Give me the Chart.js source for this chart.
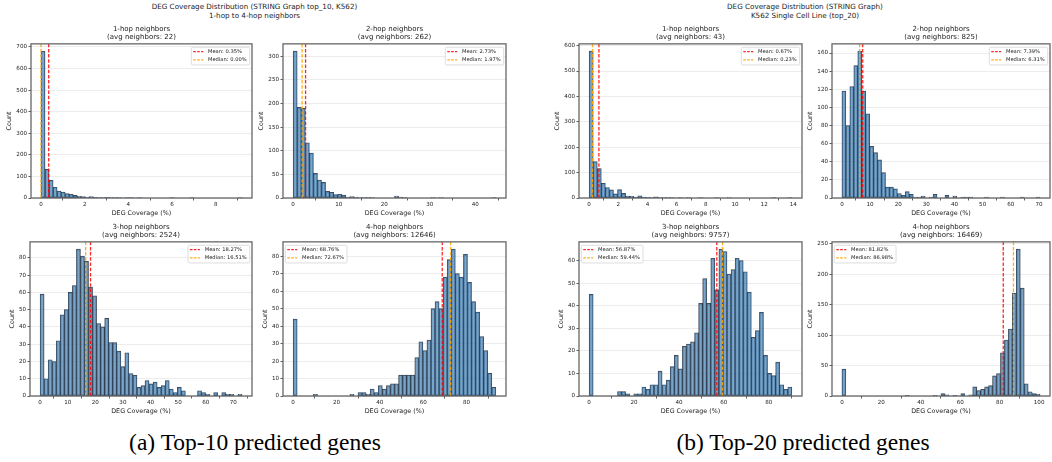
<!DOCTYPE html>
<html>
<head>
<meta charset="utf-8">
<script src="https://cdn.jsdelivr.net/npm/chart.js@4.4.0/dist/chart.umd.min.js"></script>
<style>
    html, body { margin: 0; padding: 0; background: #fff; }
    #page { position: relative; width: 1052px; height: 462px; overflow: hidden; font-family: "DejaVu Sans", sans-serif; color: #222; }
    #page canvas { position: absolute; }
    .sup { position: absolute; width: 400px; text-align: center; font-size: 7.2px; line-height: 9px; white-space: nowrap; }
    .sub { position: absolute; width: 200px; text-align: center; font-size: 7px; line-height: 7.8px; white-space: nowrap; }
    .cap { position: absolute; width: 400px; text-align: center; font-family: "Liberation Serif", serif; font-size: 23.5px; line-height: 26px; color: #000; white-space: nowrap; }
</style>
</head>
<body>
<div id="page"></div>
<script>
// ---- data ----
const hopTitles = ['1-hop neighbors', '2-hop neighbors', '3-hop neighbors', '4-hop neighbors'];

// (a) top-10
const avgNeighbors10 = [22, 262, 2524, 12646];
const mean10 = [0.35, 2.73, 18.27, 68.76];
const median10 = [0.00, 1.97, 16.51, 72.67];
const maxCoverage10 = [9.2, 44.5, 73.1, 93.5];   // histogram range 0..max, 50 bins
const xStep10 = [2, 10, 10, 20];
const yStep10 = [100, 50, 10, 10];
const top10Hop1 = [680, 133, 82, 50, 32, 27, 20, 17, 12, 8, 7, 4, 6, 3, 2, 2, 3, 2, 1, 1, 0, 1, 1, 0, 1, 0, 0, 0, 0, 0, 0, 0, 1, 0, 0, 0, 0, 2, 0, 0, 0, 0, 0, 0, 0, 0, 0, 0, 0, 1];
const top10Hop2 = [311, 192, 190, 117, 95, 52, 38, 33, 14, 12, 7, 8, 6, 2, 3, 2, 1, 1, 1, 1, 0, 0, 0, 0, 0, 4, 2, 1, 0, 0, 0, 0, 0, 0, 1, 0, 1, 0, 0, 0, 0, 0, 0, 0, 0, 0, 0, 0, 0, 1];
const top10Hop3 = [59, 10, 21, 20, 32, 47, 50, 60, 64, 85, 81, 78, 63, 58, 42, 40, 45, 31, 31, 26, 17, 25, 13, 12, 5, 6, 9, 7, 8, 5, 6, 9, 4, 2, 5, 3, 0, 0, 0, 3, 2, 1, 0, 2, 0, 2, 1, 1, 0, 1];
const top10Hop4 = [44, 0, 0, 0, 0, 1, 0, 0, 0, 0, 0, 0, 0, 0, 1, 0, 2, 2, 1, 4, 2, 6, 4, 6, 7, 7, 12, 12, 12, 12, 22, 31, 26, 32, 50, 54, 50, 68, 78, 84, 70, 68, 81, 65, 54, 48, 34, 26, 13, 5];

// (b) top-20
const avgNeighbors20 = [43, 825, 9757, 16469];
const mean20 = [0.67, 7.39, 56.87, 81.82];
const median20 = [0.23, 6.31, 59.44, 86.98];
const maxCoverage20 = [13.9, 70.4, 90.3, 100.5];
const xStep20 = [2, 10, 20, 20];
const yStep20 = [100, 20, 10, 50];
const top20Hop1 = [578, 143, 116, 58, 41, 32, 16, 33, 18, 8, 7, 4, 9, 4, 3, 2, 5, 2, 1, 1, 1, 0, 1, 0, 1, 0, 0, 1, 0, 0, 0, 1, 0, 0, 1, 0, 0, 0, 0, 0, 0, 0, 0, 0, 0, 2, 0, 0, 0, 1];
const top20Hop2 = [118, 80, 123, 146, 162, 118, 93, 57, 50, 42, 28, 12, 12, 10, 5, 3, 7, 4, 1, 1, 2, 0, 1, 4, 0, 0, 3, 0, 2, 0, 1, 1, 1, 0, 0, 0, 1, 0, 0, 0, 1, 0, 0, 0, 0, 1, 0, 0, 0, 1];
const top20Hop3 = [45, 0, 0, 0, 0, 0, 0, 2, 2, 1, 0, 1, 1, 4, 3, 5, 5, 11, 5, 7, 13, 18, 12, 22, 23, 24, 28, 41, 52, 41, 61, 47, 65, 64, 54, 56, 61, 60, 55, 46, 26, 29, 37, 18, 10, 9, 15, 5, 3, 4];
const top20Hop4 = [44, 0, 0, 0, 0, 0, 0, 0, 0, 0, 0, 0, 0, 0, 0, 0, 1, 0, 0, 0, 0, 0, 0, 1, 0, 4, 2, 0, 1, 0, 4, 0, 2, 15, 9, 11, 15, 17, 33, 37, 71, 92, 110, 169, 241, 177, 20, 7, 4, 3];

// ---- layout: plot boxes [left, top, right, bottom] in page pixels ----
const boxes10 = [[31, 43, 252, 198], [283, 43, 506, 198], [30, 241, 252, 396], [283, 241, 506, 396]];
const boxes20 = [[579, 43, 802, 198], [832, 43, 1050, 198], [579, 241, 802, 396], [832, 241, 1050, 396]];
const yAxisW10 = [25, 25, 21, 21];
const yAxisW20 = [25, 25, 21, 25];
const legendSide10 = ['right', 'right', 'right', 'left'];
const legendSide20 = ['right', 'right', 'left', 'left'];

const page = document.getElementById('page');
const FONT = '"DejaVu Sans", sans-serif';

// matplotlib style frame round the axes
const framePlugin = {
    id: 'frame',
    afterDatasetsDraw(chart) {
        const { ctx, chartArea: a } = chart;
        ctx.save();
        ctx.strokeStyle = '#666';
        ctx.lineWidth = 1.3;
        ctx.strokeRect(a.left, a.top, a.right - a.left, a.bottom - a.top);
        ctx.restore();
    }
};

// small legend drawn inside the axes
const insideLegend = {
    id: 'insideLegend',
    afterDraw(chart, args, opts) {
        const { ctx, chartArea: a } = chart;
        const items = chart.data.datasets.filter(d => d.type === 'line');
        ctx.save();
        ctx.font = '5.2px ' + FONT;
        const tw = Math.max(...items.map(d => ctx.measureText(d.label).width));
        const w = 16.7 + tw + 3, h = 17.7;
        const x = opts.side === 'left' ? a.left + 2.3 : a.right - 2.3 - w;
        const y = a.top + 3.4;
        ctx.fillStyle = 'rgba(255,255,255,0.85)';
        ctx.strokeStyle = '#d4d4d4';
        ctx.lineWidth = 0.8;
        ctx.beginPath();
        ctx.roundRect(x, y, w, h, 1.5);
        ctx.fill();
        ctx.stroke();
        items.forEach((d, i) => {
            const cy = y + 4.4 + i * 8.3;
            ctx.strokeStyle = d.borderColor;
            ctx.lineWidth = 1.2;
            ctx.setLineDash([2.6, 1.3]);
            ctx.beginPath();
            ctx.moveTo(x + 2, cy);
            ctx.lineTo(x + 12, cy);
            ctx.stroke();
            ctx.setLineDash([]);
            ctx.fillStyle = '#222';
            ctx.textBaseline = 'middle';
            ctx.fillText(d.label, x + 16.7, cy);
        });
        ctx.restore();
    }
};

// ticks at 0, step, 2*step ... inside the axis range
function stepTicks(step) {
    return s => {
        const t = [];
        for (let v = 0; v <= s.max + 1e-9; v += step) t.push({ value: v });
        s.ticks = t;
    };
}

function addText(cls, html, left, top) {
    const d = document.createElement('div');
    d.className = cls;
    d.innerHTML = html;
    d.style.left = left + 'px';
    d.style.top = top + 'px';
    page.appendChild(d);
}

function makeHist(box, yW, counts, maxX, mean, median, xStep, yStep, side, title, avg) {
    const [l, t, r, b] = box;
    const cv = document.createElement('canvas');
    cv.width = r - l + yW + 3;
    cv.height = b - t + 4 + 19;
    cv.style.left = (l - yW) + 'px';
    cv.style.top = (t - 4) + 'px';
    page.appendChild(cv);

    addText('sub', title + '<br>(avg neighbors: ' + avg + ')', (l + r) / 2 - 100, t - 17.2);

    const bw = maxX / counts.length;
    const yMax = Math.max(...counts) * 1.05;
    const pad = maxX * 0.05;

    new Chart(cv, {
        data: {
            datasets: [
                {
                    type: 'bar',
                    data: counts.map((c, i) => ({ x: (i + 0.5) * bw, y: c })),
                    backgroundColor: 'rgba(70,130,180,0.72)',
                    borderColor: 'rgba(15,25,40,0.8)',
                    borderWidth: 0.7,
                    borderSkipped: false,
                    barPercentage: 1,
                    categoryPercentage: 1,
                    order: 2
                },
                {
                    type: 'line',
                    label: 'Mean: ' + mean.toFixed(2) + '%',
                    data: [{ x: mean, y: 0 }, { x: mean, y: yMax }],
                    borderColor: 'rgba(255,0,0,0.85)',
                    borderWidth: 1.3,
                    borderDash: [3.5, 1.7],
                    pointRadius: 0,
                    order: 1
                },
                {
                    type: 'line',
                    label: 'Median: ' + median.toFixed(2) + '%',
                    data: [{ x: median, y: 0 }, { x: median, y: yMax }],
                    borderColor: 'rgba(255,165,0,0.9)',
                    borderWidth: 1.3,
                    borderDash: [3.5, 1.7],
                    pointRadius: 0,
                    order: 0
                }
            ]
        },
        options: {
            responsive: false,
            animation: false,
            devicePixelRatio: 1,
            layout: { padding: { top: 4, right: 3, left: 0, bottom: 0 } },
            plugins: {
                legend: { display: false },
                tooltip: { enabled: false },
                insideLegend: { side: side }
            },
            scales: {
                x: {
                    type: 'linear',
                    min: -pad,
                    max: maxX + pad,
                    offset: false,
                    ticks: { maxRotation: 0, autoSkip: false, padding: 0.5, color: '#222', font: { family: FONT, size: 5.6 } },
                    grid: { drawOnChartArea: false, drawTicks: true, tickLength: 2.5, tickColor: '#333', tickWidth: 0.8 },
                    border: { display: false },
                    title: { display: true, text: 'DEG Coverage (%)', color: '#222', padding: 0, font: { family: FONT, size: 6.4 } },
                    afterBuildTicks: stepTicks(xStep),
                    afterFit: s => { s.height = 19; }
                },
                y: {
                    min: 0,
                    max: yMax,
                    ticks: { padding: 1.5, color: '#222', font: { family: FONT, size: 5.6 } },
                    grid: { color: 'rgba(176,176,176,0.3)', lineWidth: 0.8, tickLength: 2.5, tickColor: '#333', tickWidth: 0.8 },
                    border: { display: false },
                    title: { display: true, text: 'Count', color: '#222', padding: 0, font: { family: FONT, size: 6.4 } },
                    afterBuildTicks: stepTicks(yStep),
                    afterFit: s => { s.width = yW; }
                }
            }
        },
        plugins: [framePlugin, insideLegend]
    });
}

// panel (a)
addText('sup', 'DEG Coverage Distribution (STRING Graph top_10, K562)<br>1-hop to 4-hop neighbors', 254.5 - 200, 2.2);
const hist10 = [top10Hop1, top10Hop2, top10Hop3, top10Hop4];
hist10.forEach((c, i) => makeHist(boxes10[i], yAxisW10[i], c, maxCoverage10[i], mean10[i], median10[i], xStep10[i], yStep10[i], legendSide10[i], hopTitles[i], avgNeighbors10[i]));

// panel (b)
addText('sup', 'DEG Coverage Distribution (STRING Graph)<br>K562 Single Cell Line (top_20)', 805 - 200, 2.2);
const hist20 = [top20Hop1, top20Hop2, top20Hop3, top20Hop4];
hist20.forEach((c, i) => makeHist(boxes20[i], yAxisW20[i], c, maxCoverage20[i], mean20[i], median20[i], xStep20[i], yStep20[i], legendSide20[i], hopTitles[i], avgNeighbors20[i]));

// captions
addText('cap', '(a) Top-10 predicted genes', 255 - 200, 429);
addText('cap', '(b) Top-20 predicted genes', 803 - 200, 429);
</script>
</body>
</html>
